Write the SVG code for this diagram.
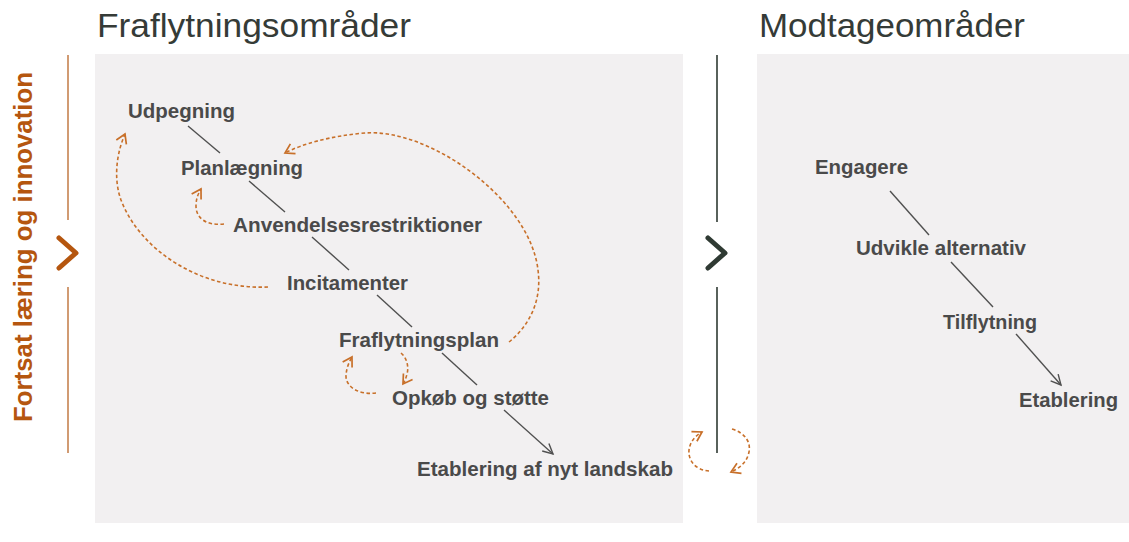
<svg xmlns="http://www.w3.org/2000/svg" width="1129" height="542" viewBox="0 0 1129 542">
<style>
.panel{fill:#f2f0f1}
.title{font-family:"Liberation Sans",Arial,sans-serif;font-size:34px;fill:#353b37}
.lbl{font-family:"Liberation Sans",Arial,sans-serif;font-size:21px;font-weight:bold;fill:#4a4a4a}
.ln{stroke:#505050;stroke-width:1.4;fill:none}
.dash{stroke:#c8702a;stroke-width:1.6;stroke-dasharray:3.5 2.5;fill:none}
.side{font-family:"Liberation Sans",Arial,sans-serif;font-size:25px;font-weight:bold;fill:#b5560f}
</style>
<defs>
<marker id="arrD" markerUnits="userSpaceOnUse" markerWidth="14" markerHeight="14" refX="11" refY="6" orient="auto">
<path d="M1,1 L11,6 L1,11" fill="none" stroke="#505050" stroke-width="1.4"/>
</marker>
<marker id="arrO" markerUnits="userSpaceOnUse" markerWidth="16" markerHeight="16" refX="11" refY="7" orient="auto">
<path d="M2,1.5 L11,7 L2,12.5" fill="none" stroke="#c8702a" stroke-width="1.7"/>
</marker>
</defs>
<rect width="1129" height="542" fill="#ffffff"/>
<rect class="panel" x="95" y="54" width="588" height="469"/>
<rect class="panel" x="757" y="54" width="372" height="469"/>
<text class="title" x="97" y="37" textLength="314" lengthAdjust="spacingAndGlyphs">Fraflytningsområder</text>
<text class="title" x="759" y="37" textLength="266" lengthAdjust="spacingAndGlyphs">Modtageområder</text>
<g id="side">
<line x1="68" y1="55" x2="68" y2="220" stroke="#c27a45" stroke-width="1.5"/>
<line x1="68" y1="287" x2="68" y2="453" stroke="#c27a45" stroke-width="1.5"/>
<path d="M59,238 L76,253 L59,268" fill="none" stroke="#b5560f" stroke-width="5" stroke-linecap="round" stroke-linejoin="round"/>
<text class="side" transform="translate(32,247) rotate(-90)" text-anchor="middle" textLength="350" lengthAdjust="spacingAndGlyphs">Fortsat læring og innovation</text>
</g>
<g id="divider">
<line x1="717" y1="55" x2="717" y2="222" stroke="#2f3a33" stroke-width="1.6"/>
<line x1="717" y1="287" x2="717" y2="453" stroke="#2f3a33" stroke-width="1.6"/>
<path d="M708,238 L725,253 L708,268" fill="none" stroke="#2f3a33" stroke-width="5" stroke-linecap="round" stroke-linejoin="round"/>
</g>
<g id="connectors">
<line class="ln" x1="188" y1="126" x2="220" y2="153"/>
<line class="ln" x1="249" y1="181" x2="285" y2="212"/>
<line class="ln" x1="312" y1="237" x2="349" y2="270"/>
<line class="ln" x1="377" y1="295" x2="412" y2="327"/>
<line class="ln" x1="442" y1="353" x2="477" y2="385"/>
<line class="ln" x1="504" y1="410" x2="553" y2="454" marker-end="url(#arrD)"/>
<line class="ln" x1="890" y1="191" x2="929" y2="235"/>
<line class="ln" x1="951" y1="262" x2="993" y2="307"/>
<line class="ln" x1="1016" y1="334" x2="1061" y2="385" marker-end="url(#arrD)"/>
<path class="dash" d="M268,287 C200,290 140,250 121,200 C113,178 117,152 125,134" marker-end="url(#arrO)"/>
<path class="dash" d="M224,224 C206,226 196,218 196,206 C196,199 198,194 201,189" marker-end="url(#arrO)"/>
<path class="dash" d="M509,342 C530,325 542,300 538,270 C530,200 430,128 365,133 C330,136 302,144 285,153" marker-end="url(#arrO)"/>
<path class="dash" d="M376,393 C360,395 347,388 346,377 C346,369 349,362 352,357" marker-end="url(#arrO)"/>
<path class="dash" d="M401,353 C407,358 409,367 407,374 C406,378 405,381 403,384" marker-end="url(#arrO)"/>
<path class="dash" d="M709,471 C695,470 688,460 689,450 C690,442 695,436 702,432" marker-end="url(#arrO)"/>
<path class="dash" d="M732,429 C745,433 751,442 749,452 C747,462 740,468 731,472" marker-end="url(#arrO)"/>
</g>
<g id="n-udpegning"><text class="lbl" x="128" y="118" textLength="107" lengthAdjust="spacingAndGlyphs">Udpegning</text></g>
<g id="n-planlaegning"><text class="lbl" x="181" y="175" textLength="122" lengthAdjust="spacingAndGlyphs">Planlægning</text></g>
<g id="n-anvendelses"><text class="lbl" x="233" y="232" textLength="249" lengthAdjust="spacingAndGlyphs">Anvendelsesrestriktioner</text></g>
<g id="n-incitamenter"><text class="lbl" x="287" y="290" textLength="121" lengthAdjust="spacingAndGlyphs">Incitamenter</text></g>
<g id="n-fraflytningsplan"><text class="lbl" x="339" y="347" textLength="160" lengthAdjust="spacingAndGlyphs">Fraflytningsplan</text></g>
<g id="n-opkob"><text class="lbl" x="392" y="405" textLength="157" lengthAdjust="spacingAndGlyphs">Opkøb og støtte</text></g>
<g id="n-etablering-landskab"><text class="lbl" x="417" y="476" textLength="256" lengthAdjust="spacingAndGlyphs">Etablering af nyt landskab</text></g>
<g id="n-engagere"><text class="lbl" x="815" y="174" textLength="93" lengthAdjust="spacingAndGlyphs">Engagere</text></g>
<g id="n-udvikle"><text class="lbl" x="856" y="255" textLength="170" lengthAdjust="spacingAndGlyphs">Udvikle alternativ</text></g>
<g id="n-tilflytning"><text class="lbl" x="943" y="329" textLength="94" lengthAdjust="spacingAndGlyphs">Tilflytning</text></g>
<g id="n-etablering"><text class="lbl" x="1019" y="407" textLength="99" lengthAdjust="spacingAndGlyphs">Etablering</text></g>
</svg>
